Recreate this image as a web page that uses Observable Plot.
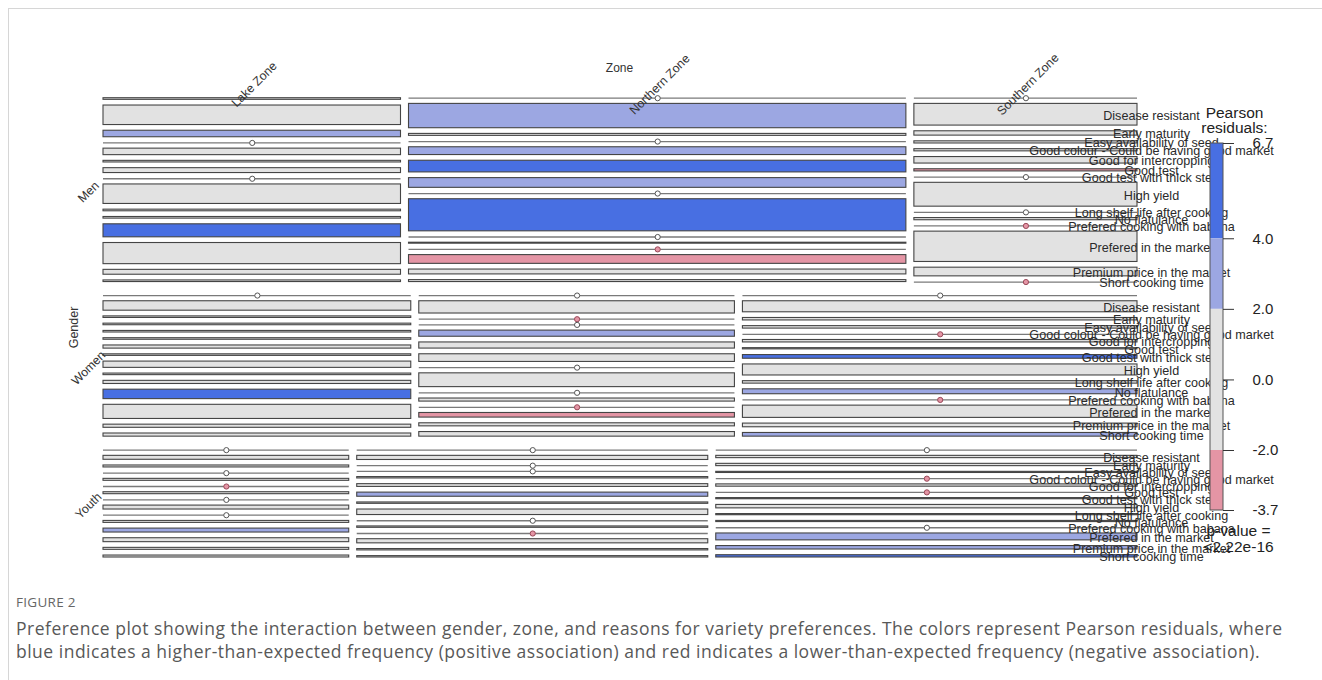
<!DOCTYPE html>
<html><head><meta charset="utf-8">
<script src="https://cdn.jsdelivr.net/npm/d3@7"></script>
<script src="https://cdn.jsdelivr.net/npm/@observablehq/plot@0.6"></script>
<style>
body{margin:0;background:#fff;width:1322px;height:680px;overflow:hidden;position:relative;font-family:"Open Sans",sans-serif}
#frame{position:absolute;left:8px;top:8px;right:0;bottom:0;border-top:1px solid #d6d6d6;border-left:1px solid #d6d6d6}
#chart{position:absolute;left:0;top:0}
#figlabel{position:absolute;left:16px;top:593px;font-size:13.5px;color:#666;letter-spacing:0.3px;white-space:nowrap}
#caption{position:absolute;left:16px;top:617px;font-size:17.5px;line-height:23px;color:#585858;letter-spacing:0.5px;white-space:nowrap}
</style></head><body>
<div id="frame"></div>
<div id="chart"></div>
<div id="figlabel">FIGURE 2</div>
<div id="caption">Preference plot showing the interaction between gender, zone, and reasons for variety preferences. The colors represent Pearson residuals, where<br>blue indicates a higher-than-expected frequency (positive association) and red indicates a lower-than-expected frequency (negative association).</div>
<script>
const genders = ["Men", "Women", "Youth"];
const zones = ["Lake Zone", "Northern Zone", "Southern Zone"];
const reasons = ["", "Disease resistant", "Early maturity", "Easy availability of seed",
  "Good colour - Could be having good market", "Good for intercropping", "Good test",
  "Good test with thick stew", "High yield", "Long shelf life after cooking", "No flatulance",
  "Prefered cooking with babana", "Prefered in the market", "Premium price in the market",
  "Short cooking time"];

// counts per reason (order of `reasons`) for each gender x zone cell
const menLake       = [1, 12, 4, 0, 4, 1, 3, 0, 12, 1, 1, 8, 13, 3, 1];
const menNorthern   = [0, 25, 2, 0, 8, 12, 10, 0, 33, 0, 1, 0, 9, 5, 2];
const menSouthern   = [0, 10, 2, 1, 1, 3, 1, 0, 11, 0, 1, 0, 14, 4, 0];
const womenLake     = [0, 6, 1, 1, 1, 1, 2, 1, 4, 1, 2, 6, 9, 2, 2];
const womenNorthern = [0, 8, 0, 0, 4, 4, 5, 0, 9, 0, 2, 0, 3, 2, 3];
const womenSouthern = [0, 9, 2, 2, 0, 2, 1, 3, 9, 2, 4, 0, 10, 3, 3];
const youthLake     = [0, 2, 1, 0, 1, 0, 1, 0, 2, 0, 1, 2, 2, 1, 1];
const youthNorthern = [0, 3, 0, 0, 1, 2, 3, 1, 4, 0, 1, 0, 3, 1, 1];
const youthSouthern = [0, 2, 2, 1, 0, 2, 0, 1, 3, 1, 1, 0, 6, 3, 2];

// Pearson residuals per cell (estimated from shading)
const resMenLake       = [-0.3, 0.4, 2.6, -1.2, 0.8, -0.5, 0.3, -1.0, 0.2, -0.4, 0.1, 5.1, 0.6, 0.2, -0.6];
const resMenNorthern   = [-1.1, 3.1, -0.6, -1.4, 2.4, 4.6, 2.9, -1.3, 6.7, -1.5, -0.4, -2.3, -3.7, 0.3, -0.2];
const resMenSouthern   = [-0.7, 1.2, 0.4, -0.5, -0.9, 1.1, -2.4, -1.0, 1.5, -0.9, -0.3, -2.1, 1.8, 0.9, -2.2];
const resWomenLake     = [-0.9, -0.2, -0.6, -0.8, -0.7, -1.1, -0.4, -0.3, -0.5, 0.2, 0.6, 4.8, 1.0, 0.3, 0.4];
const resWomenNorthern = [-0.9, 0.8, -2.1, -1.3, 2.2, 0.7, 1.2, -1.2, 0.9, -1.3, 0.5, -2.2, -2.5, 0.1, 0.6];
const resWomenSouthern = [-1.0, 0.3, 0.4, 0.9, -2.3, 0.2, -0.5, 4.3, 0.6, 1.4, 2.1, -2.4, 0.5, 0.7, 2.5];
const resYouthLake     = [-0.6, 0.2, 0.5, -0.9, 1.3, -2.1, 0.4, -0.8, 0.1, -0.8, 1.1, 2.3, 0.4, 0.6, 0.9];
const resYouthNorthern = [-0.7, 0.5, -1.2, -1.4, 0.9, 0.8, 2.6, 0.5, 0.9, -1.0, 0.6, -2.2, 0.3, 0.4, 0.6];
const resYouthSouthern = [-0.8, 0.2, 1.1, 0.6, -2.1, 1.2, -2.2, 0.4, 0.3, 0.5, 0.7, -1.6, 2.8, 2.4, 4.1];

const legendTicks = [6.7, 4.0, 2.0, 0.0, -2.0, -3.7];
const legendBreaks = [6.7, 4, 2, -2, -3.7];
const shadeColors = ["#486FE2", "#9CA7E2", "#E2E2E2", "#E495A5"];
const pValueText = ["p-value =", "<2.22e-16"];

// ---- build table ----
const cellCounts = [[menLake, menNorthern, menSouthern],[womenLake, womenNorthern, womenSouthern],[youthLake, youthNorthern, youthSouthern]];
const cellRes = [[resMenLake, resMenNorthern, resMenSouthern],[resWomenLake, resWomenNorthern, resWomenSouthern],[resYouthLake, resYouthNorthern, resYouthSouthern]];

function shade(r){ return r > 4 ? shadeColors[0] : r > 2 ? shadeColors[1] : r < -2 ? shadeColors[3] : shadeColors[2]; }

// ---- mosaic layout (vcd-like) ----
const X0 = 103, X1 = 1137, Y0 = 97.7, Y1 = 557;
const ZGAP = 8, GGAP = 13.5, RGAP = 5.7;
const nR = reasons.length;
const N = d3.sum(cellCounts.flat(2));
const contentH = (Y1 - Y0) - 2*GGAP - genders.length*(nR-1)*RGAP;
const contentW = (X1 - X0) - 2*ZGAP;

const boxes = [], zeros = [], labels = [], zoneLabels = [], genderLabels = [];
let y = Y0;
genders.forEach((g, gi) => {
  const gTot = d3.sum(cellCounts[gi].flat());
  const gH = contentH * gTot / N;
  let x = X0;
  zones.forEach((z, zi) => {
    const cnt = cellCounts[gi][zi], res = cellRes[gi][zi];
    const cTot = d3.sum(cnt);
    const w = contentW * cTot / gTot;
    let yy = y;
    cnt.forEach((c, ri) => {
      const h = gH * c / cTot;
      if (c === 0) zeros.push({x1: x, x2: x + w, xm: x + w/2, y: yy, res: res[ri]});
      else boxes.push({x1: x, x2: x + w, y1: yy, y2: yy + h, res: res[ri]});
      if (zi === zones.length - 1 && reasons[ri]) labels.push({x: 1151, y: yy + h/2 + 1, text: reasons[ri]});
      yy += h + RGAP;
    });
    if (gi === 0) zoneLabels.push({x: x + w/2 + 2, y: 84, text: z});
    x += w + ZGAP;
  });
  const rowH = gH + (nR-1)*RGAP;
  genderLabels.push({x: 88, y: y + rowH/2 + 2, text: g});
  y += rowH + GGAP;
});

// legend
const ly = d3.scaleLinear().domain([6.7, -3.7]).range([143, 510]);
const legRects = legendBreaks.slice(0, -1).map((b, i) => ({x1: 1210, x2: 1223, y1: ly(b), y2: ly(legendBreaks[i+1]), fill: shadeColors[i]}));
const legTicks = legendTicks.map(t => ({x1: 1223, x2: 1234, y: ly(t), text: t.toFixed(1)}));

const W = 1322, H = 580;
const chart = Plot.plot({
  width: W, height: H, margin: 0,
  x: {domain: [0, W], range: [0, W], axis: null},
  y: {domain: [0, H], range: [0, H], axis: null},
  style: {fontFamily: "'Liberation Sans', Arial, sans-serif", background: "transparent"},
  marks: [
    Plot.ruleY(zeros, {y: "y", x1: "x1", x2: "x2", stroke: "#7a7a7a", strokeWidth: 1.3}),
    Plot.rect(boxes, {x1: "x1", x2: "x2", y1: "y1", y2: "y2", fill: d => shade(d.res), stroke: "#454545", strokeWidth: 1.1}),
    Plot.dot(zeros, {x: "xm", y: "y", r: 2.6, fill: d => d.res < -2 ? shadeColors[3] : "#ffffff", stroke: d => d.res < -2 ? "#9a4a5a" : "#555", strokeWidth: 1}),
    Plot.text(labels, {x: "x", y: "y", text: "text", fontSize: 12.6, fill: "#2a2a2a"}),
    Plot.text(zoneLabels, {x: "x", y: "y", text: "text", fontSize: 12.3, rotate: -45, fill: "#333"}),
    Plot.text(["Zone"], {x: () => 619, y: () => 68, text: d => d, fontSize: 12, fill: "#333"}),
    Plot.text(genderLabels, {x: "x", y: "y", text: "text", fontSize: 12.3, rotate: -45, fill: "#333"}),
    Plot.text(["Gender"], {x: () => 73, y: () => 327, text: d => d, fontSize: 12.5, rotate: -90, fill: "#333"}),
    // legend
    Plot.rect(legRects, {x1: "x1", x2: "x2", y1: "y1", y2: "y2", fill: "fill"}),
    Plot.rect([legRects[0]], {x1: "x1", x2: "x2", y1: () => ly(6.7), y2: () => ly(-3.7), fill: "none", stroke: "#555", strokeWidth: 1}),
    Plot.ruleY(legTicks, {y: "y", x1: "x1", x2: "x2", stroke: "#333", strokeWidth: 1}),
    Plot.text(legTicks, {x: () => 1252, y: "y", text: "text", textAnchor: "start", fontSize: 15, fill: "#222"}),
    Plot.text(["Pearson", "residuals:"], {x: () => 1234, y: (d, i) => 113 + i*15, text: d => d, fontSize: 15.5, fill: "#222"}),
    Plot.text(pValueText, {x: () => 1238, y: (d, i) => 531 + i*16, text: d => d, fontSize: 15.5, fill: "#222"})
  ]
});
document.getElementById("chart").appendChild(chart);
</script>
</body></html>
